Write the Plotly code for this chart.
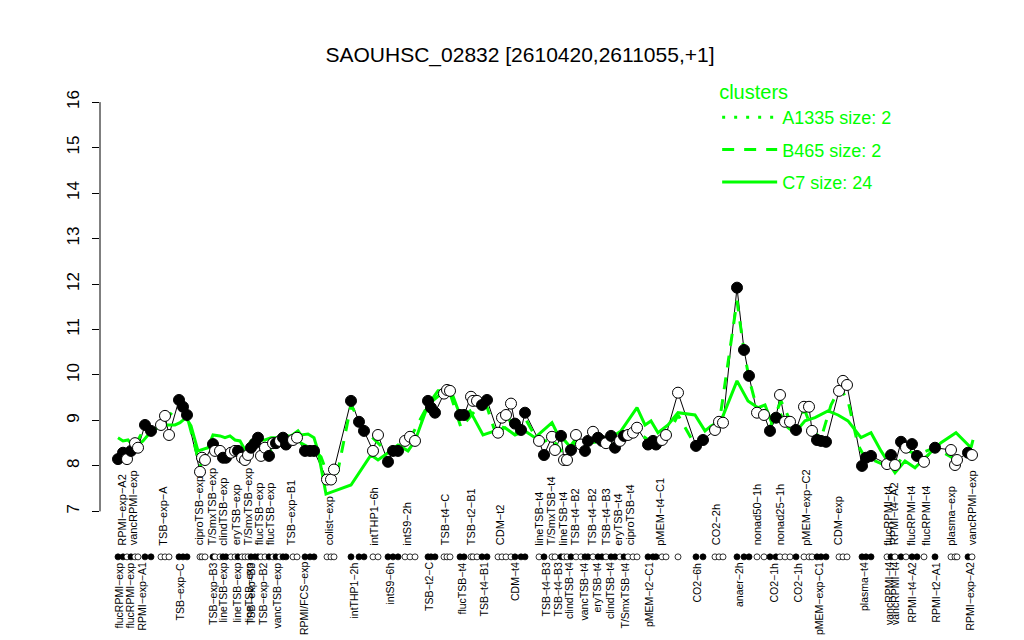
import plotly.graph_objects as go

# ---------------- data ----------------
# condition positions along the x axis, expression values, and fill flag (1 = filled)
pos = [110, 115, 119, 123, 127, 130, 137, 143, 153, 157, 161, 171, 175, 179,
       192, 194, 197, 205, 207, 212, 215, 218, 223, 227, 230, 234, 237, 240,
       243, 247, 250, 253, 257, 261, 265, 268, 272, 275, 278, 285, 289, 297,
       302, 306, 319, 323, 326, 343, 351, 356, 365, 370, 380, 385, 390, 397,
       402, 407, 420, 423, 427, 436, 439, 442, 452, 456, 463, 465, 469, 474,
       479, 490, 494, 498, 503, 507, 513, 517, 531, 536, 544, 547, 553, 556,
       559, 563, 568, 573, 577, 580, 585, 590, 594, 598, 603, 607, 612, 616,
       620, 625, 629, 640, 645, 648, 654, 658, 670, 688, 695, 707, 711, 715,
       729, 736, 741, 749, 756, 762, 768, 772, 777, 782, 788, 796, 801, 804,
       809, 813, 818, 831, 835, 839, 854, 858, 863, 879, 883, 887, 893, 898,
       904, 909, 916, 927, 943, 947, 949, 960, 964]
values = [8.15, 8.29, 8.15, 8.33, 8.5, 8.4, 8.9, 8.77, 8.9, 9.1, 8.68, 9.45, 9.3, 9.12,
          7.87, 8.18, 8.13, 8.48, 8.33, 8.33, 8.18, 8.18, 8.29, 8.33, 8.33, 8.18, 8.13, 8.24,
          8.4, 8.5, 8.62, 8.22, 8.4, 8.22, 8.5, 8.5, 8.55, 8.62, 8.47, 8.57, 8.62, 8.33,
          8.33, 8.33, 7.7, 7.7, 7.92, 9.43, 8.97, 8.77, 8.33, 8.68, 8.09, 8.33, 8.33, 8.55,
          8.64, 8.55, 9.43, 9.28, 9.17, 9.59, 9.67, 9.65, 9.12, 9.12, 9.52, 9.43, 9.43, 9.34,
          9.45, 8.73, 9.06, 9.12, 9.37, 8.93, 8.79, 9.17, 8.55, 8.24, 8.64, 8.35, 8.66, 8.13,
          8.13, 8.35, 8.68, 8.47, 8.33, 8.55, 8.75, 8.62, 8.55, 8.5, 8.66, 8.4, 8.55, 8.66,
          8.68, 8.73, 8.84, 8.47, 8.55, 8.47, 8.57, 8.68, 9.61, 8.44, 8.57, 8.79, 8.97, 8.95,
          11.92, 10.55, 9.98, 9.17, 9.12, 8.77, 9.06, 9.56, 8.97, 8.97, 8.79, 9.3, 9.3, 8.77,
          8.57, 8.55, 8.53, 9.65, 9.87, 9.78, 8.0, 8.18, 8.22, 8.04, 8.24, 8.02, 8.53, 8.4,
          8.48, 8.22, 8.09, 8.4, 8.35, 8.02, 8.13, 8.29, 8.24]
filled = [1, 1, 0, 1, 0, 0, 1, 1, 0, 0, 0, 1, 1, 1,
          0, 0, 0, 1, 0, 0, 1, 1, 0, 0, 1, 0, 0, 0,
          1, 1, 1, 0, 0, 1, 0, 1, 0, 1, 1, 0, 0, 1,
          1, 1, 0, 0, 0, 1, 1, 1, 0, 0, 1, 1, 1, 0,
          0, 0, 1, 1, 1, 0, 0, 0, 1, 1, 0, 0, 0, 1,
          1, 0, 0, 0, 0, 1, 1, 1, 0, 1, 0, 0, 1, 0,
          0, 1, 0, 0, 1, 1, 0, 1, 1, 0, 1, 1, 0, 1,
          0, 0, 0, 1, 1, 1, 0, 0, 0, 1, 1, 0, 0, 0,
          1, 1, 1, 0, 0, 1, 1, 0, 0, 0, 1, 0, 0, 0,
          1, 1, 1, 0, 0, 0, 1, 1, 1, 0, 1, 0, 1, 0,
          1, 1, 0, 1, 0, 0, 0, 1, 0]

# cluster profiles
c7_pos = [110, 115, 120, 123, 130, 135, 140, 145, 157, 167, 172, 178, 183, 190, 200, 205,
          212, 217, 222, 227, 232, 237, 243, 250, 257, 263, 272, 277, 283, 290, 293, 300,
          306, 310, 318, 343, 363, 370, 377, 390, 400, 407, 420, 430, 443, 453, 462, 475,
          487, 497, 507, 517, 527, 544, 550, 557, 563, 570, 580, 587, 597, 607, 613, 620,
          629, 637, 643, 650, 660, 670, 687, 697, 703, 713, 729, 740, 750, 757, 763, 773,
          780, 787, 797, 807, 820, 830, 840, 853, 863, 873, 887, 897, 907, 917, 933, 948,
          963, 965]
c7_val = [8.62, 8.55, 8.57, 8.5, 8.46, 8.55, 8.68, 8.79, 8.9, 8.9, 8.95, 9.06, 8.88, 8.33, 8.4, 8.68,
          8.66, 8.62, 8.66, 8.57, 8.55, 8.35, 8.55, 8.57, 8.57, 8.62, 8.62, 8.66, 8.66, 8.77, 8.68, 8.7,
          8.62, 8.33, 7.38, 7.58, 8.24, 8.13, 8.24, 8.46, 8.33, 8.55, 9.34, 9.65, 9.65, 9.06, 9.21, 8.68,
          8.77, 8.84, 8.68, 8.77, 8.62, 8.95, 8.68, 8.55, 8.4, 8.55, 8.46, 8.62, 8.62, 8.68, 8.77, 8.99,
          9.28, 8.9, 8.99, 8.73, 8.9, 9.17, 9.12, 8.77, 8.88, 8.99, 9.87, 9.43, 9.28, 9.34, 8.99, 9.12,
          8.84, 8.73, 8.99, 9.06, 9.21, 9.12, 8.99, 8.62, 8.73, 8.33, 7.85, 8.11, 7.96, 8.18, 8.51, 8.73,
          8.4, 8.57]

b465_pos = [110, 119, 127, 137, 143, 157, 171, 179, 192, 197, 205, 215, 230, 240, 250, 261,
            275, 289, 306, 313, 323, 330, 343, 356, 373, 385, 402, 420, 432, 442, 453, 467,
            479, 490, 500, 507, 517, 531, 544, 556, 568, 580, 594, 607, 620, 629, 645, 658,
            670, 687, 695, 711, 729, 736, 741, 749, 762, 773, 782, 797, 804, 813, 823, 832,
            840, 850, 857, 867, 887, 898, 909, 927, 947, 962]
b465_val = [8.2, 8.25, 8.45, 8.85, 8.75, 9.0, 9.35, 9.1, 8.0, 8.15, 8.45, 8.25, 8.3, 8.25, 8.55, 8.3,
            8.55, 8.55, 8.35, 8.2, 7.6, 7.9, 9.34, 8.8, 8.44, 8.35, 8.6, 9.34, 9.57, 9.6, 8.84, 9.21,
            9.3, 8.55, 9.1, 8.68, 9.05, 8.5, 8.6, 8.25, 8.6, 8.5, 8.55, 8.45, 8.65, 8.75, 8.5, 8.6,
            9.12, 8.46, 8.55, 8.9, 11.63, 10.53, 9.93, 9.25, 8.85, 9.43, 9.0, 9.21, 8.8, 8.6, 9.34, 9.72,
            9.43, 8.46, 8.18, 8.11, 7.92, 8.35, 8.25, 8.4, 8.15, 8.4]

cluster_names = ["A1335 size: 2", "B465 size: 2", "C7 size: 24"]

# axis labels drawn inside the plot (top row) and below the rug (bottom row)
top_labels = ["RPMI−exp−A2", "vancRPMI−exp", "TSB−exp−A", "ciproTSB−exp", "T/SmxTSB−exp",
              "clindTSB−exp", "eryTSB−exp", "T/SmxTSB−exp", "flucTSB−exp", "flucTSB−exp",
              "TSB−exp−B1", "colist−exp", "intTHP1−6h", "intS9−2h", "TSB−t4−C", "TSB−t2−B1",
              "CDM−t2", "lineTSB−t4", "T/SmxTSB−t4", "lineTSB−t4", "TSB−t4−B2", "TSB−t4−B2",
              "TSB−t4−B3", "eryTSB−t4", "ciproTSB−t4", "pMEM−t4−C1", "CO2−2h", "nonad50−1h",
              "nonad25−1h", "pMEM−exp−C2", "CDM−exp", "flucRPMI−t4", "RPMI−t4−A2",
              "flucRPMI−t4", "flucRPMI−t4", "plasma−exp", "vancRPMI−exp"]
top_pos = [114, 125, 155, 191, 204, 215, 228, 240, 251, 262, 283, 321, 366, 399, 437, 463,
           492, 531, 543, 555, 567, 584, 598, 610, 622, 652, 708, 749, 772, 798, 830, 880, 886,
           903, 918, 943, 964]

bottom_labels = ["flucRPMI−exp", "flucRPMI−exp", "RPMI−exp−A1", "TSB−exp−C", "TSB−exp−B3",
                 "lineTSB−exp", "lineTSB−exp", "lineTSB−exp", "TSB−exp−B3", "TSB−exp−B2",
                 "vancTSB−exp", "RPMI/FCS−exp", "intTHP1−2h", "intS9−6h", "TSB−t2−C",
                 "flucTSB−t4", "TSB−t4−B1", "CDM−t4", "TSB−t4−B3", "TSB−t4−B3", "clindTSB−t4",
                 "vancTSB−t4", "eryTSB−t4", "clindTSB−t4", "T/SmxTSB−t4", "pMEM−t2−C1",
                 "CO2−6h", "anaer−2h", "CO2−1h", "CO2−1h", "pMEM−exp−C1", "plasma−t4",
                 "vancRPMI−t4", "vancRPMI−t4", "RPMI−t4−A2", "RPMI−t2−A1", "RPMI−exp−A2"]
bottom_pos = [110, 121, 133, 171, 205, 214, 228, 240, 243, 255, 268, 296, 345, 381, 421,
              453, 475, 507, 537, 549, 561, 575, 588, 602, 616, 641, 688, 731, 765, 789, 811,
              856, 881, 887, 903, 927, 961]

y_ticks = [7, 8, 9, 10, 11, 12, 13, 14, 15, 16]
rug_level = 6.0
top_label_level = 6.2

# ---------------- figure ----------------
GREEN = "#00FF00"
FONT = "Liberation Sans, Arial, sans-serif"

fig = go.Figure()

# black profile line
fig.add_trace(go.Scatter(x=pos, y=values, mode="lines",
                         line=dict(color="black", width=1), showlegend=False,
                         hoverinfo="skip"))

# cluster lines
fig.add_trace(go.Scatter(x=[None], y=[None], mode="lines", name=cluster_names[0],
                         line=dict(color=GREEN, width=3, dash="3px,9px"),
                         legendgroup="a"))
fig.add_trace(go.Scatter(x=b465_pos, y=b465_val, mode="lines", name=cluster_names[1],
                         line=dict(color=GREEN, width=3, dash="12px,10px"),
                         legendgroup="b"))
fig.add_trace(go.Scatter(x=c7_pos, y=c7_val, mode="lines", name=cluster_names[2],
                         line=dict(color=GREEN, width=3), legendgroup="c"))

fills = ["black" if f else "white" for f in filled]

# points
fig.add_trace(go.Scatter(x=pos, y=values, mode="markers", showlegend=False,
                         marker=dict(size=11, color=fills,
                                     line=dict(color="black", width=1))))
# rug of points
fig.add_trace(go.Scatter(x=pos, y=[rug_level] * len(pos), mode="markers", showlegend=False,
                         marker=dict(size=6, color=fills,
                                     line=dict(color="black", width=0.8))))

annotations = []
for lab, p in zip(top_labels, top_pos):
    annotations.append(dict(x=p, y=top_label_level, xref="x", yref="y", text=lab,
                            textangle=-90, showarrow=False, xanchor="center",
                            yanchor="bottom", font=dict(size=11, color="black", family=FONT)))
for lab, p in zip(bottom_labels, bottom_pos):
    annotations.append(dict(x=p, y=0.015, xref="x", yref="paper", text=lab,
                            textangle=-90, showarrow=False, xanchor="center",
                            yanchor="top", font=dict(size=10.5, color="black", family=FONT)))

fig.update_layout(
    width=1024, height=640,
    margin=dict(l=92, r=44, t=60, b=80),
    paper_bgcolor="white", plot_bgcolor="white",
    font=dict(family=FONT, color="black"),
    title=dict(text="SAOUHSC_02832 [2610420,2611055,+1]", xref="container", x=0.5,
               xanchor="center", y=1 - 47 / 640, yanchor="middle",
               font=dict(size=21, color="black", family=FONT)),
    xaxis=dict(range=[92, 980], showgrid=False, zeroline=False, showticklabels=False,
               ticks="", showline=False),
    yaxis=dict(range=[5.755, 16.75], showgrid=False, zeroline=False, showline=False,
               tickvals=y_ticks, ticktext=[str(t) for t in y_ticks], ticks="outside",
               ticklen=7, tickcolor="black", tickwidth=1, tickangle=-90,
               ticklabelstandoff=6,
               tickfont=dict(size=17, color="black", family=FONT)),
    legend=dict(x=0.695, y=0.99, xanchor="left", yanchor="top",
                bgcolor="rgba(0,0,0,0)", tracegroupgap=6, itemwidth=55,
                title=dict(text="clusters", font=dict(size=20, color=GREEN, family=FONT)),
                font=dict(size=18, color=GREEN, family=FONT)),
    annotations=annotations,
    shapes=[dict(type="line", xref="paper", yref="y", x0=0, x1=0, y0=7, y1=16,
                 line=dict(color="black", width=1))],
)

fig.write_html("out.html")
